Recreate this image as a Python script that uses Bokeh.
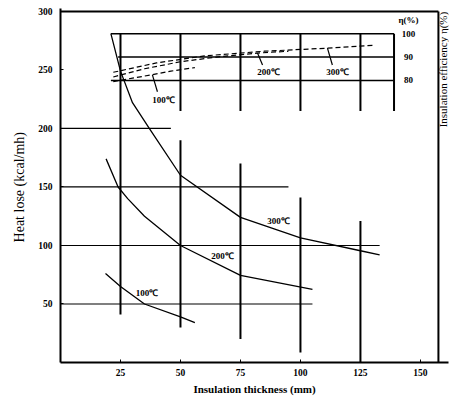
import math
from bokeh.plotting import figure
from bokeh.models import Range1d, FixedTicker
from bokeh.core.properties import value
from bokeh.embed import file_html
from bokeh.resources import INLINE

# ---- data ----
# heat loss curves (kcal/mh) vs insulation thickness (mm)
x_300 = [21, 25, 30, 37, 50, 75, 100, 125, 133]
hl_300 = [281, 249, 222, 200, 160, 124, 106.5, 95.5, 92]
x_200 = [19, 24, 28, 35, 50, 75, 105]
hl_200 = [174, 150, 140, 125, 100, 74.5, 62.5]
x_100 = [18.75, 25, 35, 50, 56]
hl_100 = [76, 65, 50, 39, 34]

# insulation efficiency curves (%)
ex_100 = [22, 30, 38, 46, 56]
eff_100 = [79.5, 81, 82.4, 84, 85.5]
ex_200 = [22, 35, 50, 65, 82, 95]
eff_200 = [81.5, 85, 88, 90, 91.7, 92.5]
ex_300 = [22, 40, 60, 85, 111, 130]
eff_300 = [83.5, 87.5, 90.5, 92.5, 93.8, 95]

x_ticks = [25, 50, 75, 100, 125, 150]
y_ticks = [50, 100, 150, 200, 250, 300]
eff_ticks = [100, 90, 80]
temp_labels = ["100℃", "200℃", "300℃"]

# reference lines (partial grid of the original)
h_lines_y = [200, 150, 100, 50]
h_lines_x1 = [0, 0, 0, 0]
h_lines_x2 = [46, 95, 133, 105]
v_lines_x = [25, 50, 50, 75, 75, 100, 100, 125, 125, 139]
v_lines_y1 = [41, 215, 30, 215, 20, 215, 8.5, 215, 0, 215]
v_lines_y2 = [281, 281, 190, 281, 170, 281, 141, 281, 121, 281]
eff_lines = [100, 90, 80]
eff_lines_x1 = [21, 24, 21]
eff_lines_x2 = [139, 139, 139]
x_max = 157.5
y_max = 300

SERIF = "Liberation Serif"

p = figure(width=449, height=397, output_backend="svg", toolbar_location=None,
           x_range=Range1d(0, 161.7), y_range=Range1d(0, 302.5),
           min_border_left=60, min_border_right=1, min_border_top=8, min_border_bottom=32)
p.extra_y_ranges = {"eta": Range1d(-40.5, 110.75)}

p.outline_line_color = None
p.xgrid.visible = False
p.ygrid.visible = False
p.background_fill_color = "white"
p.border_fill_color = "white"

for ax in (p.xaxis[0], p.yaxis[0]):
    ax.axis_line_width = 2
    ax.axis_line_color = "black"
    ax.major_tick_in = 3
    ax.major_tick_out = 0
    ax.minor_tick_line_color = None
    ax.major_label_text_font = SERIF
    ax.major_label_text_font_style = "bold"
    ax.major_label_text_font_size = "9.5px"
    ax.major_label_text_color = "black"
    ax.axis_label_text_font = SERIF
    ax.axis_label_text_font_style = "normal"
    ax.axis_label_text_color = "black"

p.xaxis[0].ticker = FixedTicker(ticks=x_ticks)
p.yaxis[0].ticker = FixedTicker(ticks=y_ticks)
p.xaxis[0].axis_label = "Insulation thickness (mm)"
p.xaxis[0].axis_label_text_font_size = "11px"
p.xaxis[0].axis_label_text_font_style = "bold"
p.xaxis[0].major_label_standoff = 6
p.xaxis[0].axis_label_standoff = 4
p.yaxis[0].axis_label = "Heat lose  (kcal/mh)"
p.yaxis[0].axis_label_text_font_size = "14px"
p.yaxis[0].major_label_standoff = 8
p.yaxis[0].axis_label_standoff = 8

# frame (top and right sides)
p.segment(x0=[0, x_max], y0=[y_max, 0], x1=[x_max, x_max], y1=[y_max, y_max],
          line_color="black", line_width=2)

# partial grid lines
p.segment(x0=h_lines_x1, y0=h_lines_y, x1=h_lines_x2, y1=h_lines_y, line_color="black", line_width=1.2)
p.segment(x0=v_lines_x, y0=v_lines_y1, x1=v_lines_x, y1=v_lines_y2, line_color="black", line_width=2)
p.segment(x0=eff_lines_x1, y0=eff_lines, x1=eff_lines_x2, y1=eff_lines, line_color="black",
          line_width=1.5, y_range_name="eta")

# heat loss curves
for xs, ys in ((x_300, hl_300), (x_200, hl_200), (x_100, hl_100)):
    p.line(xs, ys, line_color="black", line_width=1.3)

# efficiency curves
for xs, ys in ((ex_100, eff_100), (ex_200, eff_200), (ex_300, eff_300)):
    p.line(xs, ys, line_color="black", line_width=1.2, line_dash="5 3", y_range_name="eta")

# curve labels
p.text(x=[36, 67.5, 90.8], y=[59, 90.7, 121], text=temp_labels,
       text_font=value(SERIF), text_font_size="9px", text_font_style="bold",
       text_align="center", text_baseline="middle", text_color="black")
p.text(x=[42.9, 86.7, 115.4], y=[224.6, 248.3, 248.3], text=temp_labels,
       text_font=value(SERIF), text_font_size="9px", text_font_style="bold",
       text_align="center", text_baseline="middle", text_color="black")
# leader lines
p.segment(x0=[38.3, 82.1, 111.25], y0=[245.8, 264.4, 268.6],
          x1=[40.4, 84.2, 113.3], y1=[231.4, 254.2, 254.2], line_color="black", line_width=1.2)

# efficiency scale labels inside the frame
p.text(x=[145] * 3, y=eff_ticks, text=[str(t) for t in eff_ticks], y_range_name="eta",
       text_font=value(SERIF), text_font_size="9px", text_font_style="bold",
       text_align="center", text_baseline="middle", text_color="black")
p.text(x=[145], y=[292.4], text=["η(%)"],
       text_font=value(SERIF), text_font_size="9px", text_font_style="bold",
       text_align="center", text_baseline="middle", text_color="black")

# right-hand (efficiency) axis title, reading bottom to top
p.text(x=[159.6], y=[302], text=["Insulation efficiency  η(%)"], angle=math.pi / 2,
       text_font=value(SERIF), text_font_size="11px",
       text_align="right", text_baseline="middle", text_color="black")

open("out.html", "w").write(file_html(p, INLINE))
